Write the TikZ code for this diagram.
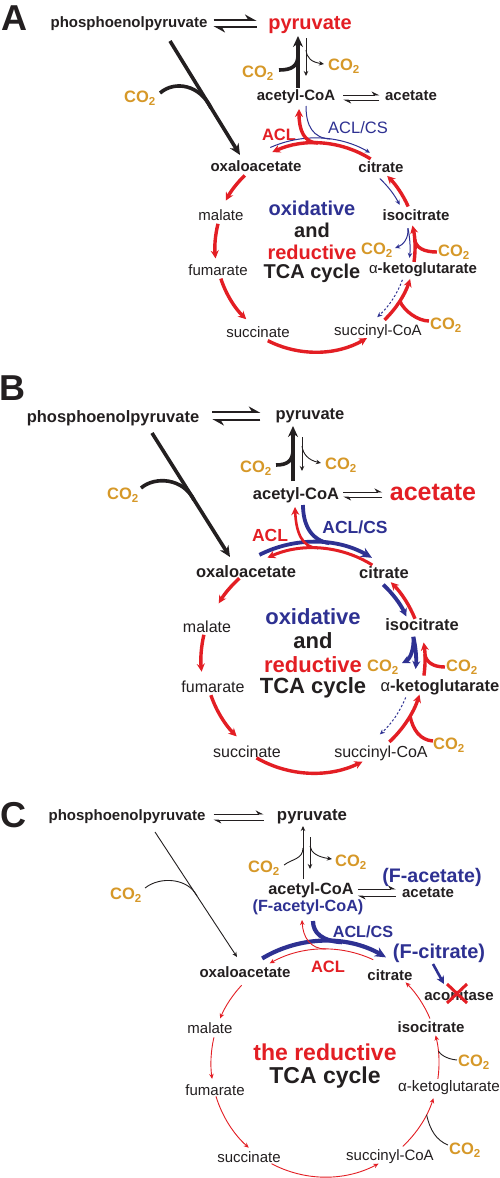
\documentclass[tikz,border=0pt]{standalone}
\usepackage{fontspec}
\setmainfont{Liberation Sans}
\usetikzlibrary{arrows.meta,calc}
\definecolor{myred}{RGB}{227,30,36}
\definecolor{myblue}{RGB}{46,49,146}
\definecolor{myorange}{RGB}{214,152,40}
\definecolor{myblack}{RGB}{35,31,32}
\newcommand{\fsz}[1]{\fontsize{#1}{#1}\selectfont}
\newcommand{\cotwo}{CO\textsubscript{2}}
\begin{document}
\begin{tikzpicture}[x=1pt,y=-1pt,
  every node/.style={inner sep=0pt,text=myblack},
  lbl/.style={font=\fsz{15}\bfseries},
  lblB/.style={font=\fsz{16.5}\bfseries},
  nrm/.style={font=\fsz{15}},
  nrmB/.style={font=\fsz{16}},
  co2/.style={font=\fsz{16.5}\bfseries,text=myorange},
  plab/.style={font=\fsz{36}\bfseries},
  ctext/.style={font=\fsz{20}\bfseries},
  ctextB/.style={font=\fsz{22}\bfseries},
  ctextC/.style={font=\fsz{23}\bfseries},
  kthick/.style={draw=myblack,line width=3.6pt},
  kthin/.style={draw=myblack,line width=0.9pt},
  rthick/.style={draw=myred,line width=3.4pt},
  rmed/.style={draw=myred,line width=2.6pt},
  rthin/.style={draw=myred,line width=0.9pt},
  bthin/.style={draw=myblue,line width=1pt},
  bthick/.style={draw=myblue,line width=3.8pt},
  bigtip/.style={-{Stealth[length=11pt,width=10pt]}},
  midtip/.style={-{Stealth[length=8pt,width=8pt]}},
  smalltip/.style={-{Stealth[length=5pt,width=4.5pt]}},
  eqk/.style={draw=myblack,line width=2.4pt,-{Stealth[harpoon,length=10pt,width=11pt]}},
  eqthin/.style={draw=myblack,line width=0.8pt,-{Stealth[harpoon,length=7pt,width=7pt]}},
  dashblue/.style={draw=myblue,line width=1pt,dash pattern=on 2.2pt off 2pt}
]
\fill[white] (0,0) rectangle (500,1178);
\useasboundingbox (0,0) rectangle (500,1178);

%%%%%%%%%%%%%%%%%%%% PANEL A %%%%%%%%%%%%%%%%%%%%
\coordinate (A-c) at (315,248);
\node[plab] (A-lab) at (14,18) {A};
\node[lbl] (A-pep) at (129,24) {phosphoenolpyruvate};
\node[lbl,font=\fsz{20}\bfseries,text=myred] (A-pyr) at (310,25) {pyruvate};
\draw[eqk] ($(A-pep.east)+(6,-4)$) -- ($(A-pep.east)+(49,-4)$);
\draw[eqk] ($(A-pep.east)+(49,3)$) -- ($(A-pep.east)+(6,3)$);

\node[lbl] (A-acoa) at (296,97) {acetyl-CoA};
\node[lbl] (A-acet) at (411,96) {acetate};
\draw[eqthin] ($(A-acoa.east)+(8,-2)$) -- ($(A-acoa.east)+(44,-2)$);
\draw[eqthin] ($(A-acoa.east)+(44,3)$) -- ($(A-acoa.east)+(8,3)$);

\node[co2] (A-co2a) at (258,73) {\cotwo};
\node[co2] (A-co2b) at (344,66) {\cotwo};
\coordinate (A-u0) at (298,88);
\coordinate (A-u1) at (298,36);
\coordinate (A-uj) at (298,55);
\draw[kthick,bigtip] (A-u0) -- (A-u1);
\draw[kthick] ($(A-co2a.east)+(5,-3)$) .. controls (292,70) and (298,66) .. (A-uj);
\coordinate (A-d0) at (306,38);
\coordinate (A-d1) at (306,76);
\coordinate (A-dj) at (306,50);
\draw[kthin,smalltip] (A-d0) -- (A-d1);
\draw[kthin,smalltip] (A-dj) .. controls (307,58) and (311,62) .. ($(A-co2b.west)+(-4,-2)$);

\node[co2] (A-co2c) at (140,98) {\cotwo};
\coordinate (A-g0) at (170,41);
\coordinate (A-g1) at (240,155);
\coordinate (A-gj) at (211,108);
\draw[kthick,bigtip] (A-g0) -- (A-g1);
\draw[kthick] ($(A-co2c.east)+(4,-5)$) .. controls (175,80) and (200,85) .. (A-gj);

\node[lbl] (A-oaa) at (256,166) {oxaloacetate};
\node[lbl] (A-cit) at (381,167) {citrate};
\node[lbl,font=\fsz{16.5}\bfseries,text=myred] (A-acl) at (279,135) {ACL};
\node[nrm,font=\fsz{16.5},text=myblue] (A-aclcs) at (358,128) {ACL/CS};

\draw[rthick,midtip] ($(A-c)+(-58:105)$) arc[start angle=-58,end angle=-114,radius=105];
\draw[bthin,smalltip] ($(A-c)+(246:110)$) arc[start angle=246,end angle=300,radius=110];
\coordinate (A-rj) at (318,143);
\coordinate (A-rt) at (299,109);
\draw[rthick,midtip] (A-rj) .. controls (304,143) and (299,130) .. (A-rt);
\coordinate (A-bs) at (306,106);
\coordinate (A-bj) at ($(A-c)+(-82:110)$);
\draw[bthin] (A-bs) .. controls (306,126) and (313,138) .. (A-bj);

\node[nrm] (A-mal) at (221,215) {malate};
\node[nrm] (A-fum) at (218,270) {fumarate};
\node[nrm] (A-suc) at (258,332) {succinate};
\node[nrm] (A-scoa) at (378,332) {succinyl-CoA};
\node[lbl] (A-akg) at (423,270) {{\mdseries α}-ketoglutarate};
\node[lbl] (A-iso) at (416,215) {isocitrate};
\node[co2] (A-co2d) at (377,250) {\cotwo};
\node[co2] (A-co2e) at (454,252) {\cotwo};
\node[co2] (A-co2f) at (446,325) {\cotwo};

\draw[rthick,midtip] ($(A-c)+(226:101)$) arc[start angle=226,end angle=208,radius=101];
\draw[rthick,midtip] ($(A-c)+(194:100)$) arc[start angle=194,end angle=174,radius=100];
\draw[rthick,midtip] ($(A-c)+(162:99)$) arc[start angle=162,end angle=134,radius=99];
\draw[rthick,midtip] ($(A-c)+(117:104)$) arc[start angle=117,end angle=60,radius=104];
\draw[rthick,midtip] ($(A-c)+(46:100)$) arc[start angle=46,end angle=18,radius=100];
\draw[rthick,midtip] ($(A-c)+(8:100)$) arc[start angle=8,end angle=-13,radius=100];
\draw[rthick,midtip] ($(A-c)+(-24:102)$) arc[start angle=-24,end angle=-45,radius=102];
\coordinate (A-j1) at ($(A-c)+(32:100)$);
\coordinate (A-j2) at ($(A-c)+(-5:100)$);
\draw[rthick] ($(A-co2f.west)+(-1,-4)$) .. controls (418,321) and (404,311) .. (A-j1);
\draw[rthick] ($(A-co2e.west)+(-1,0)$) .. controls (424,252) and (416,248) .. (A-j2);

\draw[bthin,smalltip] ($(A-c)+(-47:95)$) arc[start angle=-47,end angle=-27,radius=95];
\draw[bthin,smalltip] ($(A-c)+(-12:95)$) arc[start angle=-12,end angle=6,radius=95];
\coordinate (A-bi) at ($(A-c)+(-12:95)$);
\draw[bthin,smalltip] (A-bi) .. controls +(1,10) and +(8,-3) .. ($(A-co2d.east)+(2,-2)$);
\draw[dashblue,smalltip] ($(A-c)+(20:93)$) arc[start angle=20,end angle=48,radius=93];

\node[ctext,text=myblue] (A-t1) at (312,208) {oxidative};
\node[ctext] (A-t2) at (312,230) {and};
\node[ctext,text=myred] (A-t3) at (312,252) {reductive};
\node[ctext] (A-t4) at (312,273) {TCA cycle};

%%%%%%%%%%%%%%%%%%%% PANEL B %%%%%%%%%%%%%%%%%%%%
\coordinate (B-c) at (313,660);
\node[plab] (B-lab) at (12,388) {B};
\node[lblB] (B-pep) at (113,418) {phosphoenolpyruvate};
\node[lblB] (B-pyr) at (310,416) {pyruvate};
\draw[eqk] ($(B-pep.east)+(13,-6)$) -- ($(B-pep.east)+(61,-6)$);
\draw[eqk] ($(B-pep.east)+(61,2)$) -- ($(B-pep.east)+(13,2)$);

\node[lblB] (B-acoa) at (296,495) {acetyl-CoA};
\node[lbl,font=\fsz{25}\bfseries,text=myred] (B-acet) at (433,492) {acetate};
\draw[eqthin] ($(B-acoa.east)+(4,-3)$) -- ($(B-acoa.east)+(43,-3)$);
\draw[eqthin] ($(B-acoa.east)+(43,2)$) -- ($(B-acoa.east)+(4,2)$);

\node[co2] (B-co2a) at (256,468) {\cotwo};
\node[co2] (B-co2b) at (341,465) {\cotwo};
\coordinate (B-u0) at (293,481);
\coordinate (B-u1) at (293,426);
\coordinate (B-uj) at (293,450);
\draw[kthick,bigtip] (B-u0) -- (B-u1);
\draw[kthick] ($(B-co2a.east)+(4,-3)$) .. controls (287,465) and (293,461) .. (B-uj);
\coordinate (B-d0) at (302,437);
\coordinate (B-d1) at (302,471);
\coordinate (B-dj) at (302,446);
\draw[kthin,smalltip] (B-d0) -- (B-d1);
\draw[kthin,smalltip] (B-dj) .. controls (303,454) and (308,460) .. ($(B-co2b.west)+(-4,-2)$);

\node[co2] (B-co2c) at (123,495) {\cotwo};
\coordinate (B-g0) at (152,433);
\coordinate (B-g1) at (230,557);
\coordinate (B-gj) at (194,500);
\draw[kthick,bigtip] (B-g0) -- (B-g1);
\draw[kthick] ($(B-co2c.east)+(2,-7)$) .. controls (155,476) and (183,478) .. (B-gj);

\node[lblB] (B-oaa) at (246,572) {oxaloacetate};
\node[lblB] (B-cit) at (384,573) {citrate};
\node[lbl,font=\fsz{17.5}\bfseries,text=myred] (B-acl) at (270,535) {ACL};
\node[lbl,font=\fsz{17.5}\bfseries,text=myblue] (B-aclcs) at (355,527) {ACL/CS};

\draw[bthick,bigtip] ($(B-c)+(243:118)$) arc[start angle=243,end angle=300,radius=118];
\draw[rthick,line width=3pt,midtip] ($(B-c)+(-58:112)$) arc[start angle=-58,end angle=-114,radius=112];
\coordinate (B-rj) at (318,548);
\coordinate (B-rt) at (295,507);
\draw[rmed,midtip] (B-rj) .. controls (302,548) and (296,532) .. (B-rt);
\coordinate (B-bs) at (303,505);
\coordinate (B-bj) at ($(B-c)+(-82:118)$);
\draw[bthick] (B-bs) .. controls (303,527) and (313,541) .. (B-bj);

\node[nrmB] (B-mal) at (207,627) {malate};
\node[nrmB] (B-fum) at (213,687) {fumarate};
\node[nrmB] (B-suc) at (247,752) {succinate};
\node[nrmB] (B-scoa) at (381,753) {succinyl-CoA};
\node[lblB] (B-akg) at (440,687) {{\mdseries α}-ketoglutarate};
\node[lblB] (B-iso) at (422,625) {isocitrate};
\node[co2] (B-co2d) at (383,667) {\cotwo};
\node[co2] (B-co2e) at (462,667) {\cotwo};
\node[co2] (B-co2f) at (449,745) {\cotwo};

\draw[rthick,midtip] ($(B-c)+(228:110)$) arc[start angle=228,end angle=211,radius=110];
\draw[rthick,midtip] ($(B-c)+(193:112)$) arc[start angle=193,end angle=174,radius=112];
\draw[rthick,midtip] ($(B-c)+(161:108)$) arc[start angle=161,end angle=135,radius=108];
\draw[rthick,midtip] ($(B-c)+(120:113)$) arc[start angle=120,end angle=64,radius=113];
\draw[rthick,midtip] ($(B-c)+(47:112)$) arc[start angle=47,end angle=18,radius=112];
\draw[rthick,midtip] ($(B-c)+(8:112)$) arc[start angle=8,end angle=-9,radius=112];
\draw[rthick,midtip] ($(B-c)+(-22:110)$) arc[start angle=-22,end angle=-45,radius=110];
\coordinate (B-j1) at ($(B-c)+(30:112)$);
\coordinate (B-j2) at ($(B-c)+(-3:112)$);
\draw[rthick] ($(B-co2f.west)+(0,-4)$) .. controls (420,740) and (413,730) .. (B-j1);
\draw[rthick] ($(B-co2e.west)+(-1,0)$) .. controls (433,667) and (426,662) .. (B-j2);

\draw[bthick,midtip] ($(B-c)+(-47:103)$) arc[start angle=-47,end angle=-25,radius=103];
\draw[bthick,midtip] ($(B-c)+(-13:103)$) arc[start angle=-13,end angle=5,radius=103];
\coordinate (B-bi) at ($(B-c)+(-13:103)$);
\draw[bthick,midtip] (B-bi) .. controls +(1,12) and +(8,-4) .. ($(B-co2d.east)+(3,-4)$);
\draw[dashblue,smalltip] ($(B-c)+(22:100)$) arc[start angle=22,end angle=48,radius=100];

\node[ctextB,text=myblue] (B-t1) at (313,617) {oxidative};
\node[ctextB] (B-t2) at (313,641) {and};
\node[ctextB,text=myred] (B-t3) at (313,665) {reductive};
\node[ctextB] (B-t4) at (313,688) {TCA cycle};

%%%%%%%%%%%%%%%%%%%% PANEL C %%%%%%%%%%%%%%%%%%%%
\coordinate (C-c) at (325,1063);
\node[plab] (C-lab) at (13,815) {C};
\node[lbl] (C-pep) at (127,817) {phosphoenolpyruvate};
\node[lbl,font=\fsz{16.8}\bfseries] (C-pyr) at (312,817) {pyruvate};
\draw[eqthin] ($(C-pep.east)+(8,-3)$) -- ($(C-pep.east)+(58,-3)$);
\draw[eqthin] ($(C-pep.east)+(58,3)$) -- ($(C-pep.east)+(8,3)$);

\node[co2] (C-co2a) at (264,868) {\cotwo};
\node[co2] (C-co2b) at (351,862) {\cotwo};
\node[lbl,font=\fsz{16.3}\bfseries] (C-acoa) at (311,890) {acetyl-CoA};
\node[lbl,font=\fsz{16.2}\bfseries,text=myblue] (C-facoa) at (308,907) {(F-acetyl-CoA)};
\node[lbl] (C-acet) at (428,893) {acetate};
\node[lbl,font=\fsz{19.6}\bfseries,text=myblue] (C-facet) at (432,877) {(F-acetate)};
\draw[eqthin] ($(C-acoa.east)+(4,-1)$) -- ($(C-acoa.east)+(42,-1)$);
\draw[eqthin] ($(C-acoa.east)+(42,6)$) -- ($(C-acoa.east)+(4,6)$);

\coordinate (C-u0) at (303,879);
\coordinate (C-u1) at (303,826);
\coordinate (C-uj) at (303,848);
\draw[kthin,smalltip] (C-u0) -- (C-u1);
\draw[kthin] ($(C-co2a.east)+(4,-3)$) .. controls (292,859) and (303,859) .. (C-uj);
\coordinate (C-d0) at (310,837);
\coordinate (C-d1) at (310,869);
\coordinate (C-dj) at (310,846);
\draw[kthin,smalltip] (C-d0) -- (C-d1);
\draw[kthin,smalltip] (C-dj) .. controls (311,853) and (318,857) .. ($(C-co2b.west)+(-3,-3)$);

\node[co2] (C-co2c) at (126,895) {\cotwo};
\coordinate (C-g0) at (155,832);
\coordinate (C-g1) at (237,957);
\coordinate (C-gj) at (197,896);
\draw[kthin,smalltip] (C-g0) -- (C-g1);
\draw[kthin] ($(C-co2c.east)+(3,-7)$) .. controls (160,876) and (188,878) .. (C-gj);

\node[lbl] (C-oaa) at (245,972) {oxaloacetate};
\node[lbl] (C-cit) at (390,975) {citrate};
\node[lbl,font=\fsz{16.5}\bfseries,text=myred] (C-acl) at (328,967) {ACL};
\node[lbl,font=\fsz{16.2}\bfseries,text=myblue] (C-aclcs) at (363,932) {ACL/CS};
\node[lbl,font=\fsz{20}\bfseries,text=myblue] (C-fcit) at (439,953) {(F-citrate)};
\node[lbl] (C-acon) at (459,995) {aconitase};

\draw[bthick,line width=4.2pt,bigtip] ($(C-c)+(239:122)$) arc[start angle=239,end angle=300,radius=122];
\draw[rthin,smalltip] ($(C-c)+(-65:114)$) arc[start angle=-65,end angle=-119,radius=114];
\coordinate (C-rj) at (326,949);
\coordinate (C-rt) at (302,920);
\draw[rthin,smalltip] (C-rj) .. controls (310,949) and (303,937) .. (C-rt);
\coordinate (C-bs) at (313,921);
\coordinate (C-bj) at ($(C-c)+(-82:122)$);
\draw[bthick,line width=4.2pt] (C-bs) .. controls (313,933) and (322,941) .. (C-bj);

\coordinate (C-fa0) at (433,964);
\coordinate (C-fa1) at (444,984);
\draw[bthick,line width=2.6pt,midtip] (C-fa0) -- (C-fa1);
\coordinate (C-x1) at (447,984);
\coordinate (C-x2) at (467,1003);
\coordinate (C-x3) at (467,984);
\coordinate (C-x4) at (447,1003);
\draw[myred,line width=3pt] (C-x1) -- (C-x2);
\draw[myred,line width=3pt] (C-x3) -- (C-x4);

\node[nrm] (C-mal) at (210,1028) {malate};
\node[nrm] (C-fum) at (215,1090) {fumarate};
\node[nrm] (C-suc) at (249,1157) {succinate};
\node[nrm] (C-scoa) at (390,1157) {succinyl-CoA};
\node[nrm,font=\fsz{15.2}] (C-akg) at (449,1088) {α-ketoglutarate};
\node[lbl] (C-iso) at (431,1027) {isocitrate};
\node[co2] (C-co2d) at (474,1062) {\cotwo};
\node[co2] (C-co2e) at (465,1150) {\cotwo};

\draw[rthin,smalltip] ($(C-c)+(223:114)$) arc[start angle=223,end angle=203,radius=114];
\draw[rthin,smalltip] ($(C-c)+(193:114)$) arc[start angle=193,end angle=172,radius=114];
\draw[rthin,smalltip] ($(C-c)+(163:114)$) arc[start angle=163,end angle=132,radius=114];
\draw[rthin,smalltip] ($(C-c)+(118:114)$) arc[start angle=118,end angle=62,radius=114];
\draw[rthin,smalltip] ($(C-c)+(47:114)$) arc[start angle=47,end angle=18,radius=114];
\draw[rthin,smalltip] ($(C-c)+(8:114)$) arc[start angle=8,end angle=-14,radius=114];
\draw[rthin,smalltip] ($(C-c)+(-23:114)$) arc[start angle=-23,end angle=-45,radius=114];
\coordinate (C-j1) at ($(C-c)+(-6:114)$);
\coordinate (C-j2) at ($(C-c)+(27:114)$);
\draw[kthin] ($(C-co2d.west)+(-1,-2)$) .. controls (446,1059) and (440,1054) .. (C-j1);
\draw[kthin] ($(C-co2e.west)+(-1,-5)$) .. controls (436,1140) and (430,1130) .. (C-j2);

\node[ctextC,text=myred] (C-t1) at (325,1052) {the reductive};
\node[ctextC] (C-t2) at (325,1078) {TCA cycle};
\end{tikzpicture}
\end{document}
